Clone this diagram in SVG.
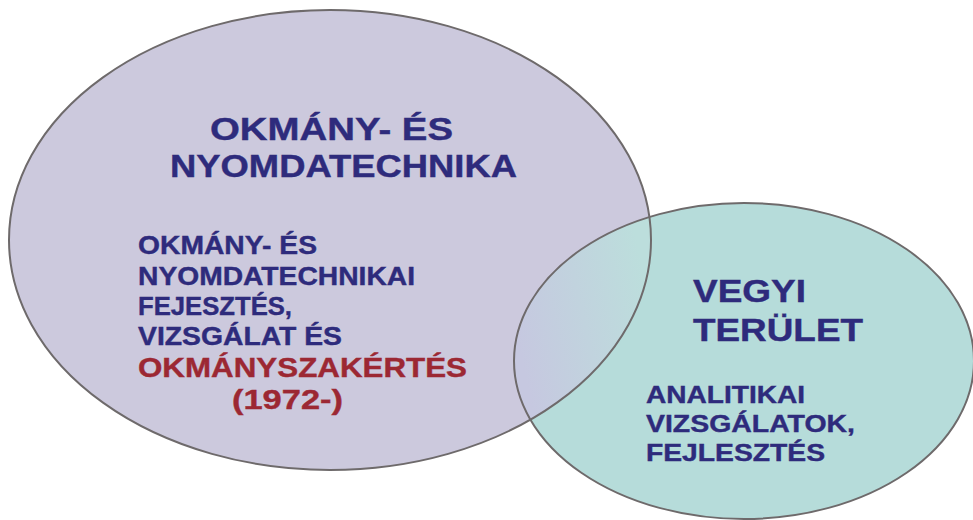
<svg xmlns="http://www.w3.org/2000/svg" width="973" height="520" viewBox="0 0 973 520">
  <defs>
    <style>
      .t { font-family: "Liberation Sans", Arial, sans-serif; font-weight: bold; fill: #2e2b7c; stroke: #2e2b7c; stroke-width: 0.4; }
      .red { fill: #9c2833; stroke: #9c2833; }
      .outline { fill: none; stroke: #6e6a6b; stroke-width: 2; }
    </style>
    <clipPath id="clipLeft">
      <ellipse cx="330" cy="240" rx="321" ry="230"/>
    </clipPath>
    <linearGradient id="overlap" gradientUnits="userSpaceOnUse" x1="515" y1="330" x2="650" y2="300">
      <stop offset="0" stop-color="#c6c8e0"/>
      <stop offset="1" stop-color="#bcdedc"/>
    </linearGradient>
  </defs>
  <rect width="973" height="520" fill="#ffffff"/>

  <g id="left-set">
    <ellipse cx="330" cy="240" rx="321" ry="230" fill="#ccc9dd"/>
  </g>
  <g id="right-set">
    <ellipse cx="744" cy="361" rx="230" ry="158" fill="#b6dcda"/>
  </g>
  <g id="overlap-region">
    <ellipse cx="744" cy="361" rx="230" ry="158" fill="url(#overlap)" clip-path="url(#clipLeft)"/>
  </g>
  <g id="connectors">
    <ellipse class="outline" cx="330" cy="240" rx="321" ry="230"/>
    <ellipse class="outline" cx="744" cy="361" rx="230" ry="158"/>
  </g>

  <g id="left-labels">
    <text class="t" x="210" y="140" font-size="32" textLength="243" lengthAdjust="spacingAndGlyphs">OKMÁNY- ÉS</text>
    <text class="t" x="170" y="177" font-size="32" textLength="347" lengthAdjust="spacingAndGlyphs">NYOMDATECHNIKA</text>
    <text class="t" x="138" y="254" font-size="25" textLength="179" lengthAdjust="spacingAndGlyphs">OKMÁNY- ÉS</text>
    <text class="t" x="138" y="285" font-size="25" textLength="277" lengthAdjust="spacingAndGlyphs">NYOMDATECHNIKAI</text>
    <text class="t" x="138" y="315" font-size="25" textLength="154" lengthAdjust="spacingAndGlyphs">FEJESZTÉS,</text>
    <text class="t" x="138" y="345" font-size="25" textLength="204" lengthAdjust="spacingAndGlyphs">VIZSGÁLAT ÉS</text>
    <text class="t red" x="138" y="377" font-size="28" textLength="329" lengthAdjust="spacingAndGlyphs">OKMÁNYSZAKÉRTÉS</text>
    <text class="t red" x="232" y="409" font-size="28" textLength="111" lengthAdjust="spacingAndGlyphs">(1972-)</text>
  </g>

  <g id="right-labels">
    <text class="t" x="693" y="302" font-size="32" textLength="113" lengthAdjust="spacingAndGlyphs">VEGYI</text>
    <text class="t" x="693" y="341" font-size="32" textLength="170" lengthAdjust="spacingAndGlyphs">TERÜLET</text>
    <text class="t" x="646" y="403" font-size="24" textLength="159" lengthAdjust="spacingAndGlyphs">ANALITIKAI</text>
    <text class="t" x="646" y="432" font-size="24" textLength="209" lengthAdjust="spacingAndGlyphs">VIZSGÁLATOK,</text>
    <text class="t" x="646" y="461" font-size="24" textLength="179" lengthAdjust="spacingAndGlyphs">FEJLESZTÉS</text>
  </g>
</svg>
